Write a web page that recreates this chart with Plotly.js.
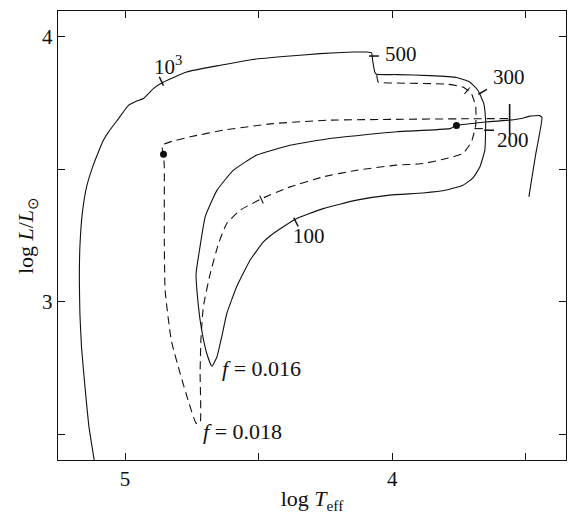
<!DOCTYPE html>
<html><head><meta charset="utf-8">
<script src="https://cdn.plot.ly/plotly-3.0.1.min.js"></script>
<style>html,body{margin:0;padding:0;background:#fff}#chart{width:570px;height:514px}</style>
</head><body><div id="chart"></div>
<script>
// Track for f = 0.016 (solid)
const solidLogT = [3.488,3.463,3.439,3.448,3.485,3.516,3.560,3.647,3.759,3.784,3.984,4.233,4.382,4.507,4.594,4.656,4.700,4.721,4.734,4.725,4.713,4.694,4.675,4.656,4.638,4.619,4.582,4.532,4.482,4.445,4.364,4.258,4.133,4.009,3.884,3.797,3.735,3.698,3.672,3.653,3.650,3.650,3.657,3.679,3.710,3.759,3.859,3.984,4.058,4.065,4.073,4.077,4.096,4.146,4.270,4.395,4.520,4.644,4.769,4.856,4.893,4.931,4.956,4.988,5.025,5.063,5.081,5.100,5.119,5.144,5.160,5.169,5.171,5.169,5.163,5.150,5.135,5.115];
const solidLogL = [3.396,3.554,3.696,3.703,3.701,3.692,3.686,3.679,3.666,3.654,3.642,3.617,3.591,3.554,3.497,3.421,3.321,3.197,3.107,2.981,2.893,2.805,2.757,2.792,2.868,2.956,3.057,3.157,3.226,3.258,3.311,3.352,3.384,3.403,3.411,3.422,3.440,3.467,3.508,3.572,3.648,3.686,3.749,3.799,3.830,3.847,3.854,3.858,3.859,3.868,3.912,3.940,3.943,3.943,3.937,3.927,3.915,3.893,3.868,3.830,3.806,3.768,3.758,3.741,3.691,3.640,3.610,3.565,3.516,3.434,3.334,3.208,3.082,2.956,2.830,2.679,2.528,2.400];
// Track for f = 0.018 (dashed)
const dashedLogT = [3.566,3.735,3.984,4.233,4.445,4.632,4.756,4.831,4.862,4.856,4.853,4.853,4.853,4.850,4.827,4.794,4.764,4.734,4.719,4.719,4.716,4.707,4.681,4.650,4.619,4.569,4.488,4.382,4.258,4.133,3.984,3.884,3.797,3.735,3.703,3.687,3.687,3.703,3.735,3.797,3.984,4.052,4.058];
const dashedLogL = [3.692,3.691,3.689,3.686,3.673,3.648,3.623,3.604,3.591,3.557,3.509,3.384,3.233,3.044,2.855,2.731,2.629,2.542,2.542,2.731,2.855,2.981,3.107,3.220,3.296,3.346,3.390,3.434,3.472,3.497,3.516,3.522,3.541,3.560,3.604,3.667,3.736,3.786,3.811,3.822,3.826,3.830,3.859];
// Starting points (dots)
const dotLogT = [3.759, 4.856];
const dotLogL = [3.666, 3.557];
// Time markers on the tracks
const solidMarkT = [4.864, 4.068, 3.661, 3.637, 4.360];
const solidMarkL = [3.833, 3.928, 3.793, 3.648, 3.301];
const solidMarkAngle = [-25, 90, 60, 90, -27];
const dashedMarkT = [4.489, 3.676, 3.719];
const dashedMarkL = [3.386, 3.654, 3.797];
const dashedMarkAngle = [-25, 90, 40];
const bigMarkT = [3.560];
const bigMarkL = [3.689];
// Labels
const labelText = ['10<sup>3</sup>', '500', '300', '200', '100', '<i>f</i> = 0.016', '<i>f</i> = 0.018'];
const labelT = [4.900, 4.034, 3.631, 3.613, 4.380, 4.646, 4.717];
const labelL = [3.893, 3.937, 3.847, 3.610, 3.248, 2.749, 2.510];
// Axis ticks
const xMajorVals = [4, 5];
const xMajorText = ['4', '5'];
const xMinorVals = [3.5, 4.5];
const yMajorVals = [3, 4];
const yMajorText = ['3', '4'];
const yMinorVals = [2.5, 3.5];

const serif = 'Liberation Serif, Times New Roman, serif';
const ink = '#111';

const traces = [
  {x: solidLogT, y: solidLogL, mode: 'lines', line: {color: ink, width: 1.1, shape: 'spline', smoothing: 0.4}, hoverinfo: 'skip'},
  {x: dashedLogT, y: dashedLogL, mode: 'lines', line: {color: ink, width: 1.1, dash: '8px,5px', shape: 'spline', smoothing: 0.4}, hoverinfo: 'skip'},
  {x: dotLogT, y: dotLogL, mode: 'markers', marker: {color: ink, size: 7}, hoverinfo: 'skip'},
  {x: solidMarkT, y: solidMarkL, mode: 'markers', marker: {symbol: 'line-ns', size: 7, angle: solidMarkAngle, line: {color: ink, width: 1.5}}, hoverinfo: 'skip'},
  {x: dashedMarkT, y: dashedMarkL, mode: 'markers', marker: {symbol: 'line-ns', size: 6, angle: dashedMarkAngle, line: {color: ink, width: 1.1}}, hoverinfo: 'skip'},
  {x: bigMarkT, y: bigMarkL, mode: 'markers', marker: {symbol: 'line-ns', size: 22, line: {color: ink, width: 1.6}}, hoverinfo: 'skip'}
];

const annotations = labelText.map((t, i) => ({
  x: labelT[i], y: labelL[i], xref: 'x', yref: 'y', text: t, showarrow: false,
  xanchor: 'left', yanchor: 'middle',
  font: {family: serif, size: i >= 5 ? 22 : 21, color: ink}
}));

const axisCommon = {
  ticks: 'inside', ticklen: 7, tickwidth: 1, tickcolor: ink,
  showline: true, linecolor: ink, linewidth: 1.2, mirror: 'ticks',
  showgrid: false, zeroline: false,
  tickfont: {family: serif, size: 21, color: ink}
};

const layout = {
  width: 570, height: 514,
  margin: {l: 58, r: 4, t: 11, b: 54},
  paper_bgcolor: '#fff', plot_bgcolor: '#fff',
  showlegend: false,
  xaxis: Object.assign({}, axisCommon, {
    range: [5.251, 3.349], tickmode: 'array', tickvals: xMajorVals, ticktext: xMajorText,
    minor: {tickvals: xMinorVals, ticks: 'inside', ticklen: 7, tickwidth: 1, tickcolor: ink, showgrid: false},
    title: {text: 'log <i>T</i><sub>eff</sub>', font: {family: serif, size: 22, color: ink}}
  }),
  yaxis: Object.assign({}, axisCommon, {
    range: [2.403, 4.098], tickmode: 'array', tickvals: yMajorVals, ticktext: yMajorText,
    minor: {tickvals: yMinorVals, ticks: 'inside', ticklen: 7, tickwidth: 1, tickcolor: ink, showgrid: false},
    automargin: true,
    title: {text: 'log <i>L</i>/<i>L</i><sub>⊙</sub>', font: {family: serif, size: 22, color: ink}, standoff: 2}
  }),
  annotations: annotations
};

Plotly.newPlot('chart', traces, layout, {displayModeBar: false, staticPlot: true});
</script>
</body></html>
